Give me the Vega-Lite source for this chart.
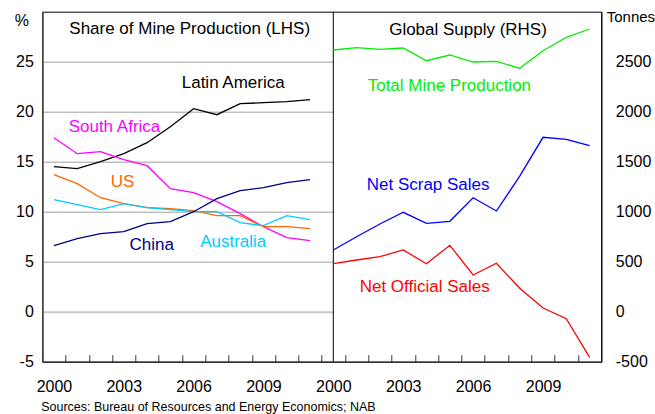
{
  "$schema": "https://vega.github.io/schema/vega-lite/v6.json",
  "autosize": {"type": "none"},
  "width": 559,
  "height": 350,
  "padding": {"left": 42.3, "top": 11.7, "right": 54, "bottom": 52},
  "background": "white",
  "config": {
    "font": "Liberation Sans",
    "view": {"stroke": "#000000", "strokeWidth": 1},
    "axis": {"labelFont": "Liberation Sans", "titleFont": "Liberation Sans", "labelColor": "#000000", "titleColor": "#000000", "labelFlush": false, "labelOverlap": false, "labelBound": false, "titleFontWeight": "normal"}
  },
  "datasets": {
    "lhs": [
      {"series": "Latin America", "year": 2000, "value": 14.5},
      {"series": "Latin America", "year": 2001, "value": 14.3},
      {"series": "Latin America", "year": 2002, "value": 15.0},
      {"series": "Latin America", "year": 2003, "value": 15.8},
      {"series": "Latin America", "year": 2004, "value": 16.9},
      {"series": "Latin America", "year": 2005, "value": 18.5},
      {"series": "Latin America", "year": 2006, "value": 20.3},
      {"series": "Latin America", "year": 2007, "value": 19.7},
      {"series": "Latin America", "year": 2008, "value": 20.8},
      {"series": "Latin America", "year": 2009, "value": 20.9},
      {"series": "Latin America", "year": 2010, "value": 21.0},
      {"series": "Latin America", "year": 2011, "value": 21.2},
      {"series": "South Africa", "year": 2000, "value": 17.4},
      {"series": "South Africa", "year": 2001, "value": 15.8},
      {"series": "South Africa", "year": 2002, "value": 16.0},
      {"series": "South Africa", "year": 2003, "value": 15.2},
      {"series": "South Africa", "year": 2004, "value": 14.6},
      {"series": "South Africa", "year": 2005, "value": 12.3},
      {"series": "South Africa", "year": 2006, "value": 11.9},
      {"series": "South Africa", "year": 2007, "value": 11.0},
      {"series": "South Africa", "year": 2008, "value": 9.8},
      {"series": "South Africa", "year": 2009, "value": 8.5},
      {"series": "South Africa", "year": 2010, "value": 7.4},
      {"series": "South Africa", "year": 2011, "value": 7.1},
      {"series": "US", "year": 2000, "value": 13.7},
      {"series": "US", "year": 2001, "value": 12.8},
      {"series": "US", "year": 2002, "value": 11.4},
      {"series": "US", "year": 2003, "value": 10.8},
      {"series": "US", "year": 2004, "value": 10.4},
      {"series": "US", "year": 2005, "value": 10.3},
      {"series": "US", "year": 2006, "value": 10.1},
      {"series": "US", "year": 2007, "value": 9.6},
      {"series": "US", "year": 2008, "value": 9.6},
      {"series": "US", "year": 2009, "value": 8.5},
      {"series": "US", "year": 2010, "value": 8.5},
      {"series": "US", "year": 2011, "value": 8.3},
      {"series": "Australia", "year": 2000, "value": 11.2},
      {"series": "Australia", "year": 2001, "value": 10.7},
      {"series": "Australia", "year": 2002, "value": 10.2},
      {"series": "Australia", "year": 2003, "value": 10.8},
      {"series": "Australia", "year": 2004, "value": 10.4},
      {"series": "Australia", "year": 2005, "value": 10.2},
      {"series": "Australia", "year": 2006, "value": 10.0},
      {"series": "Australia", "year": 2007, "value": 10.0},
      {"series": "Australia", "year": 2008, "value": 8.9},
      {"series": "Australia", "year": 2009, "value": 8.6},
      {"series": "Australia", "year": 2010, "value": 9.6},
      {"series": "Australia", "year": 2011, "value": 9.2},
      {"series": "China", "year": 2000, "value": 6.6},
      {"series": "China", "year": 2001, "value": 7.3},
      {"series": "China", "year": 2002, "value": 7.8},
      {"series": "China", "year": 2003, "value": 8.0},
      {"series": "China", "year": 2004, "value": 8.8},
      {"series": "China", "year": 2005, "value": 9.0},
      {"series": "China", "year": 2006, "value": 10.0},
      {"series": "China", "year": 2007, "value": 11.3},
      {"series": "China", "year": 2008, "value": 12.1},
      {"series": "China", "year": 2009, "value": 12.4},
      {"series": "China", "year": 2010, "value": 12.9},
      {"series": "China", "year": 2011, "value": 13.2}
    ],
    "rhs": [
      {"series": "Total Mine Production", "year": 2000, "value": 2617},
      {"series": "Total Mine Production", "year": 2001, "value": 2640},
      {"series": "Total Mine Production", "year": 2002, "value": 2624},
      {"series": "Total Mine Production", "year": 2003, "value": 2637},
      {"series": "Total Mine Production", "year": 2004, "value": 2510},
      {"series": "Total Mine Production", "year": 2005, "value": 2567},
      {"series": "Total Mine Production", "year": 2006, "value": 2497},
      {"series": "Total Mine Production", "year": 2007, "value": 2504},
      {"series": "Total Mine Production", "year": 2008, "value": 2434},
      {"series": "Total Mine Production", "year": 2009, "value": 2610},
      {"series": "Total Mine Production", "year": 2010, "value": 2744},
      {"series": "Total Mine Production", "year": 2011, "value": 2827},
      {"series": "Net Scrap Sales", "year": 2000, "value": 617},
      {"series": "Net Scrap Sales", "year": 2001, "value": 750},
      {"series": "Net Scrap Sales", "year": 2002, "value": 877},
      {"series": "Net Scrap Sales", "year": 2003, "value": 994},
      {"series": "Net Scrap Sales", "year": 2004, "value": 884},
      {"series": "Net Scrap Sales", "year": 2005, "value": 904},
      {"series": "Net Scrap Sales", "year": 2006, "value": 1140},
      {"series": "Net Scrap Sales", "year": 2007, "value": 1007},
      {"series": "Net Scrap Sales", "year": 2008, "value": 1355},
      {"series": "Net Scrap Sales", "year": 2009, "value": 1744},
      {"series": "Net Scrap Sales", "year": 2010, "value": 1724},
      {"series": "Net Scrap Sales", "year": 2011, "value": 1660},
      {"series": "Net Official Sales", "year": 2000, "value": 480},
      {"series": "Net Official Sales", "year": 2001, "value": 517},
      {"series": "Net Official Sales", "year": 2002, "value": 550},
      {"series": "Net Official Sales", "year": 2003, "value": 617},
      {"series": "Net Official Sales", "year": 2004, "value": 480},
      {"series": "Net Official Sales", "year": 2005, "value": 664},
      {"series": "Net Official Sales", "year": 2006, "value": 367},
      {"series": "Net Official Sales", "year": 2007, "value": 484},
      {"series": "Net Official Sales", "year": 2008, "value": 234},
      {"series": "Net Official Sales", "year": 2009, "value": 37},
      {"series": "Net Official Sales", "year": 2010, "value": -70},
      {"series": "Net Official Sales", "year": 2011, "value": -456}
    ],
    "lhsLabels": [
      {"series": "Latin America", "year": 2007.7, "value": 22.85},
      {"series": "South Africa", "year": 2002.6, "value": 18.45},
      {"series": "US", "year": 2002.95, "value": 13.0},
      {"series": "China", "year": 2004.2, "value": 6.67},
      {"series": "Australia", "year": 2007.7, "value": 7.0}
    ],
    "rhsLabels": [
      {"series": "Total Mine Production", "year": 2004.98, "value": 2257},
      {"series": "Net Scrap Sales", "year": 2004.07, "value": 1267},
      {"series": "Net Official Sales", "year": 2003.92, "value": 250}
    ],
    "lhsTitle": [{"text": "Share of Mine Production (LHS)", "year": 2005.83, "value": 28.24}],
    "rhsTitle": [{"text": "Global Supply (RHS)", "year": 2005.78, "value": 2817}],
    "divider": [{"year": 2000}]
  },
  "layer": [
    {
      "layer": [
        {
          "data": {"name": "lhs"},
          "mark": {"type": "line", "strokeWidth": 1.3},
          "encoding": {
            "x": {
              "field": "year", "type": "quantitative",
              "scale": {"domain": [1999.5, 2012], "range": [0, 291], "nice": false, "zero": false},
              "axis": {
                "orient": "bottom",
                "values": [1999.5, 2000.5, 2001.5, 2002.5, 2003.5, 2004.5, 2005.5, 2006.5, 2007.5, 2008.5, 2009.5, 2010.5, 2011.5],
                "labelExpr": "((datum.value - 1999.5) % 3 == 0 && datum.value < 2010) ? format(datum.value + 0.5, 'd') : ''",
                "labelOffset": 11.6,
                "labelFontSize": 16,
                "labelPadding": 24,
                "tickSize": -7,
                "tickColor": "#333333",
                "domainColor": "#333333",
                "domainWidth": 1.5,
                "grid": false,
                "title": "Sources: Bureau of Resources and Energy Economics; NAB",
                "titleFontSize": 12.5,
                "titleAlign": "left",
                "titleBaseline": "alphabetic",
                "titleAnchor": "start",
                "titleX": -1.6,
                "titleY": 48.5
              }
            },
            "y": {
              "field": "value", "type": "quantitative",
              "scale": {"domain": [-5, 30], "nice": false, "zero": false},
              "axis": {
                "values": [-5, 0, 5, 10, 15, 20, 25],
                "labelExpr": "toString(datum.value)",
                "labelFontSize": 16,
                "labelPadding": 9,
                "ticks": false,
                "domainColor": "#404040",
                "domainWidth": 1.5,
                "grid": true,
                "gridColor": {"condition": {"test": "datum.value === 0", "value": "#c8c8c8"}, "value": "#a0a0a0"},
                "gridWidth": {"condition": {"test": "datum.value === 0", "value": 2}, "value": 1},
                "title": "%",
                "titleAngle": 0,
                "titleFontSize": 16,
                "titleAlign": "center",
                "titleBaseline": "middle",
                "titleX": -21,
                "titleY": 9
              }
            },
            "color": {
              "field": "series", "type": "nominal", "legend": null,
              "scale": {
                "domain": ["Latin America", "South Africa", "US", "Australia", "China", "Total Mine Production", "Net Scrap Sales", "Net Official Sales"],
                "range": ["#000000", "#ff00ff", "#ff6600", "#00ccff", "#000080", "#00ee00", "#0000ff", "#ff0000"]
              }
            }
          }
        },
        {
          "data": {"name": "lhsLabels"},
          "mark": {"type": "text", "fontSize": 17, "align": "center", "baseline": "middle"},
          "encoding": {
            "x": {"field": "year", "type": "quantitative"},
            "y": {"field": "value", "type": "quantitative"},
            "text": {"field": "series"},
            "color": {"field": "series", "type": "nominal", "legend": null}
          }
        },
        {
          "data": {"name": "lhsTitle"},
          "mark": {"type": "text", "fontSize": 17, "align": "center", "baseline": "middle", "color": "#000000"},
          "encoding": {
            "x": {"field": "year", "type": "quantitative"},
            "y": {"field": "value", "type": "quantitative"},
            "text": {"field": "text"}
          }
        }
      ]
    },
    {
      "layer": [
        {
          "data": {"name": "divider"},
          "mark": {"type": "rule", "color": "#000000", "strokeWidth": 1},
          "encoding": {
            "x": {"field": "year", "type": "quantitative"}
          }
        },
        {
          "data": {"name": "rhs"},
          "mark": {"type": "line", "strokeWidth": 1.3},
          "encoding": {
            "x": {
              "field": "year", "type": "quantitative",
              "scale": {"domain": [2000, 2011.5], "range": [291, 559], "nice": false, "zero": false},
              "axis": {
                "orient": "bottom",
                "values": [2000.5, 2001.5, 2002.5, 2003.5, 2004.5, 2005.5, 2006.5, 2007.5, 2008.5, 2009.5, 2010.5],
                "labelExpr": "(datum.value - 2000.5) % 3 == 0 ? format(datum.value - 0.5, 'd') : ''",
                "labelOffset": -11.65,
                "labelFontSize": 16,
                "labelPadding": 24,
                "tickSize": -7,
                "tickColor": "#333333",
                "domainColor": "#333333",
                "domainWidth": 1.5,
                "grid": false,
                "title": null
              }
            },
            "y": {
              "field": "value", "type": "quantitative",
              "scale": {"domain": [-500, 3000], "nice": false, "zero": false},
              "axis": {
                "orient": "right",
                "values": [-500, 0, 500, 1000, 1500, 2000, 2500],
                "labelExpr": "toString(datum.value)",
                "labelFontSize": 16,
                "labelPadding": 14,
                "ticks": false,
                "domainColor": "#000000",
                "grid": false,
                "title": "Tonnes",
                "titleAngle": 0,
                "titleFontSize": 15,
                "titleAlign": "left",
                "titleBaseline": "middle",
                "titleX": 5,
                "titleY": 5
              }
            },
            "color": {"field": "series", "type": "nominal", "legend": null}
          }
        },
        {
          "data": {"name": "rhsLabels"},
          "mark": {"type": "text", "fontSize": 17, "align": "center", "baseline": "middle"},
          "encoding": {
            "x": {"field": "year", "type": "quantitative"},
            "y": {"field": "value", "type": "quantitative"},
            "text": {"field": "series"},
            "color": {"field": "series", "type": "nominal", "legend": null}
          }
        },
        {
          "data": {"name": "rhsTitle"},
          "mark": {"type": "text", "fontSize": 17, "align": "center", "baseline": "middle", "color": "#000000"},
          "encoding": {
            "x": {"field": "year", "type": "quantitative"},
            "y": {"field": "value", "type": "quantitative"},
            "text": {"field": "text"}
          }
        }
      ]
    }
  ],
  "resolve": {
    "scale": {"x": "independent", "y": "independent"},
    "axis": {"x": "independent", "y": "independent"}
  }
}
